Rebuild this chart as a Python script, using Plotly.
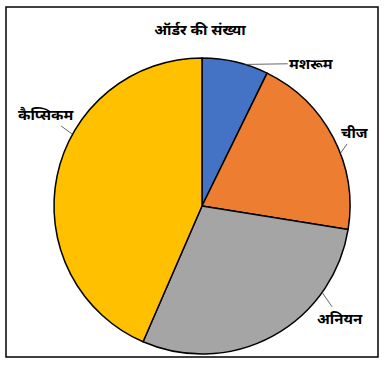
import math
import plotly.graph_objects as go

W, H = 385, 365

labels = ['मशरूम', 'चीज', 'अनियन', 'कैप्सिकम']
orders = [5, 14, 20, 30]
colors = ['#4472C4', '#ED7D31', '#A5A5A5', '#FFC000']

# where along each slice the leader line touches the pie, and text offset (px)
label_frac = [0.65, 0.59, 0.255, 0.61]
label_off = [(66, -1), (15, -21), (18, 26), (-27, -20)]

# pie placement in pixels
cx, cy, rad = 202, 206, 148

font_fam = 'Noto Sans, DejaVu Sans, sans-serif'

fig = go.Figure()
fig.add_trace(go.Pie(
    labels=labels, values=orders, sort=False, direction='clockwise', rotation=0,
    marker=dict(colors=colors, line=dict(color='black', width=1.5)),
    textinfo='none', hoverinfo='label+value', showlegend=False,
    domain=dict(x=[(cx - rad) / W, (cx + rad) / W], y=[1 - (cy + rad) / H, 1 - (cy - rad) / H]),
))

total = sum(orders)
start = 0.0
annotations = []
for lab, v, frac, (ox, oy) in zip(labels, orders, label_frac, label_off):
    span = v / total * 360
    ang = math.radians(start + frac * span)
    px = cx + rad * math.sin(ang)
    py = cy - rad * math.cos(ang)
    annotations.append(dict(
        x=px / W, y=1 - py / H, xref='paper', yref='paper', text='<b>%s</b>' % lab,
        showarrow=True, arrowhead=0, arrowwidth=0.8, arrowcolor='#404040', ax=ox, ay=oy,
        font=dict(size=15, color='black', family=font_fam), standoff=0,
    ))
    start += span

fig.update_layout(
    width=W, height=H, margin=dict(l=0, r=0, t=0, b=0),
    paper_bgcolor='white', plot_bgcolor='white',
    title=dict(text='<b>ऑर्डर की संख्या</b>', x=200 / W, y=1 - 30 / H, xanchor='center', yanchor='middle',
               font=dict(size=15, color='black', family=font_fam)),
    annotations=annotations,
    shapes=[dict(type='rect', xref='paper', yref='paper', x0=6 / W, x1=378 / W, y0=1 - 357 / H, y1=1 - 7 / H,
                 line=dict(color='black', width=1.5))],
)

# page body has a default 8px margin - drop it so the figure sits at the window edge
fig.write_html("out.html", config={'displayModeBar': False},
               post_script="document.body.style.margin='0';")
